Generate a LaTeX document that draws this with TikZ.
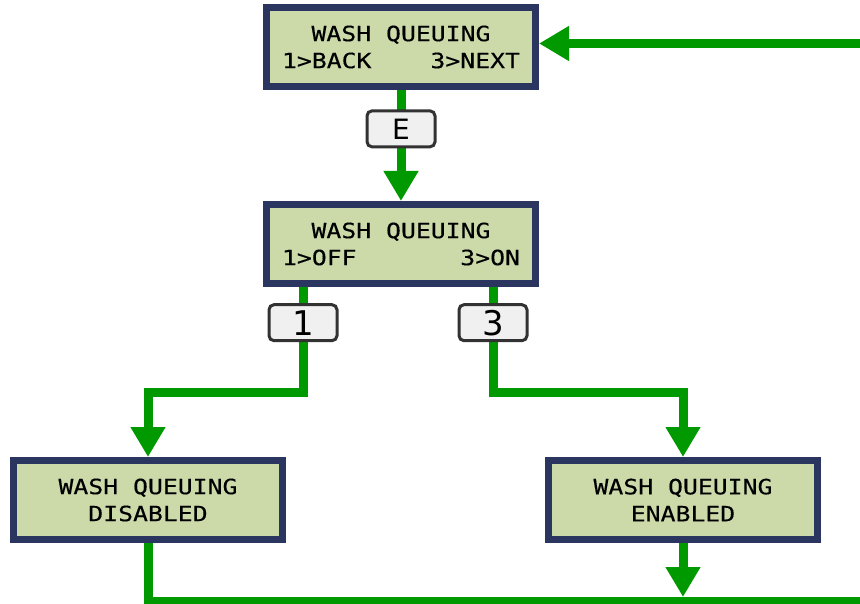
\documentclass[tikz,border=0pt]{standalone}
\usepackage{fontspec}
\usepackage{xcolor}
\usetikzlibrary{arrows.meta}
\newfontfamily\lcdfont[FakeStretch=1.18,FakeBold=0.4]{DejaVu Sans Mono}
\newfontfamily\keyfont{DejaVu Sans}
\newcommand\lcdgap{\hspace{14.9pt}}
\definecolor{flowgreen}{RGB}{0,153,0}
\definecolor{lcdnavy}{RGB}{42,54,96}
\definecolor{lcdfill}{RGB}{204,218,170}
\definecolor{keyfill}{RGB}{240,240,240}
\definecolor{keyedge}{RGB}{50,50,50}

\begin{document}
\begin{tikzpicture}[x=1pt,y=-1pt,
  lcd/.style={draw=lcdnavy,line width=7pt,fill=lcdfill,inner sep=0pt,minimum width=269pt,minimum height=79pt,text width=238pt,align=center,font=\lcdfont\fontsize{21}{27}\selectfont},
  key/.style={draw=keyedge,line width=3pt,fill=keyfill,rounded corners=5pt,inner sep=0pt,minimum width=68pt,minimum height=36pt,font=\keyfont\fontsize{28}{28}\selectfont},
  bigkey/.style={key,font=\keyfont\fontsize{34}{34}\selectfont},
  flow/.style={draw=flowgreen,line width=9pt},
  tip/.style={-{Triangle[width=33pt,length=30pt]}}]
\clip (0,0) rectangle (860,604);
\node[lcd] (back) at (401,47) {WASH\lcdgap QUEUING\\1>BACK\hfill3>NEXT};
\node[lcd] (menu) at (401,244) {WASH\lcdgap QUEUING\\1>OFF\hfill3>ON};
\node[lcd] (off) at (148,500) {WASH\lcdgap QUEUING\\DISABLED};
\node[lcd] (on) at (683,500) {WASH\lcdgap QUEUING\\ENABLED};
\coordinate (entry) at (870,43.5);
\coordinate (exit) at (870,601);

\draw[flow,tip] (entry) -- (back.east |- entry);
\draw[flow,tip] (back.south) -- node[key,pos=0.35] (keyE) {E} (menu.north);
\draw[flow,tip] ([xshift=-98pt]menu.south) -- node[bigkey,pos=0.34] (keyOne) {1} ++(0,105) -| (off.north);
\draw[flow,tip] ([xshift=92pt]menu.south) -- node[bigkey,pos=0.34] (keyThree) {3} ++(0,105) -| (on.north);
\draw[flow] (off.south) |- (exit);
\draw[flow,tip] (on.south) -- ([yshift=4pt]on.south |- exit);
\end{tikzpicture}
\end{document}
